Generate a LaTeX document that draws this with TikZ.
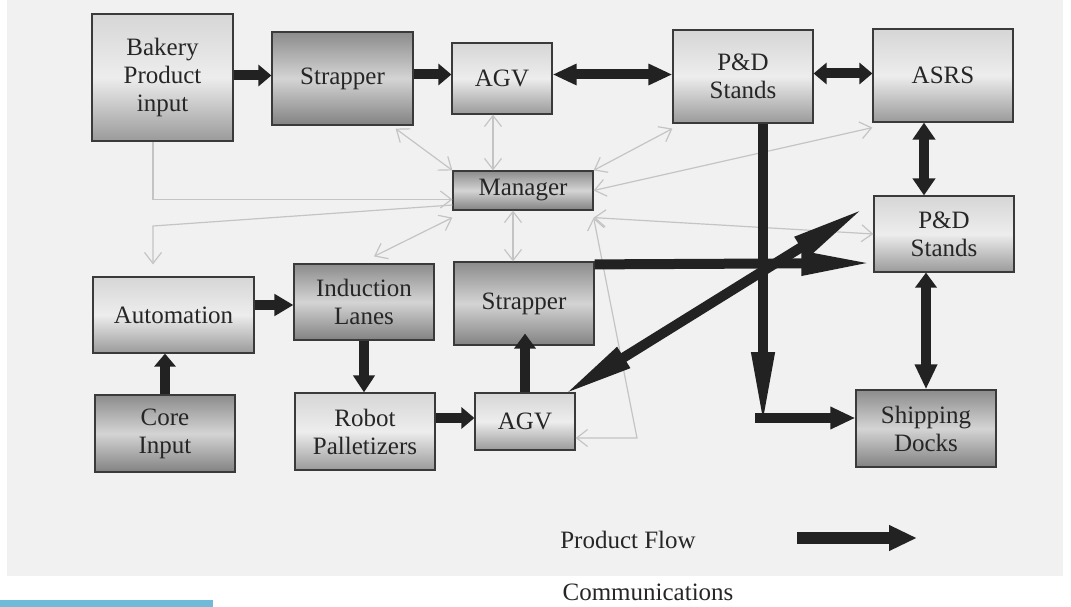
\documentclass[tikz,border=0pt]{standalone}
\usepackage{fontspec}
\setmainfont{Liberation Serif}
\usetikzlibrary{arrows.meta,calc}
\definecolor{bgc}{HTML}{F1F1F1}
\definecolor{boxc}{HTML}{3A3A3A}
\definecolor{txt}{HTML}{262626}
\definecolor{lt}{HTML}{D6D6D6}
\definecolor{lm}{HTML}{EDEDED}
\definecolor{lb}{HTML}{9A9A9A}
\definecolor{dt}{HTML}{8C8C8C}
\definecolor{dm}{HTML}{D4D4D4}
\definecolor{db}{HTML}{828282}
\definecolor{flowc}{HTML}{222222}
\definecolor{commc}{HTML}{C4C4C4}
\definecolor{barc}{HTML}{6FB9D9}
\begin{document}
\begin{tikzpicture}[x=1pt,y=-1pt,
  box/.style={draw=boxc, line width=1.2pt, inner sep=2pt, align=center, text=txt,
    font=\fontsize{25}{28}\selectfont},
  lbox/.style={box, top color=lt, bottom color=lb, middle color=lm},
  dbox/.style={box, top color=dt, bottom color=db, middle color=dm},
  flow/.style={draw=flowc, line width=10pt},
  comm/.style={draw=commc, line width=1.2pt},
  tS/.style={-{Triangle[length=13pt,width=21pt]}},
  tM/.style={-{Triangle[length=19pt,width=21pt]}},
  tL/.style={-{Triangle[length=72pt,width=22pt]}},
  cb/.style={comm, -{Straight Barb[length=11pt,width=17pt]}},
  cbb/.style={comm, {Straight Barb[length=11pt,width=17pt]}-{Straight Barb[length=11pt,width=17pt]}}
]
\useasboundingbox (0,0) rectangle (1071,607);
\fill[bgc] (7,0) rectangle (1063,576);
\fill[barc] (0,600) rectangle (213,607);

% nodes
\node[lbox, minimum width=141pt, minimum height=127pt] (bakery) at (162.5,77.5) {Bakery\\Product\\input};
\node[dbox, minimum width=141pt, minimum height=93pt] (strap1) at (342.5,78.5) {Strapper};
\node[lbox, minimum width=100pt, minimum height=71pt] (agv1) at (502,78.5) {AGV};
\node[lbox, minimum width=140pt, minimum height=93pt] (pd1) at (743,76.5) {P\&D\\Stands};
\node[lbox, minimum width=140pt, minimum height=93pt] (asrs) at (943,75.5) {ASRS};
\node[dbox, minimum width=140pt, minimum height=39pt] (manager) at (523,190.5) {Manager};
\node[lbox, minimum width=140pt, minimum height=76pt] (pd2) at (944,234) {P\&D\\Stands};
\node[lbox, minimum width=161pt, minimum height=76pt] (autom) at (173.5,315) {Automation};
\node[dbox, minimum width=140pt, minimum height=76pt] (induct) at (364,302) {Induction\\Lanes};
\node[dbox, minimum width=140pt, minimum height=83pt] (strap2) at (524,303.5) {Strapper};
\node[dbox, minimum width=140pt, minimum height=77pt] (core) at (165,433.5) {Core\\Input};
\node[lbox, minimum width=140pt, minimum height=77pt] (robot) at (365,431.5) {Robot\\Palletizers};
\node[lbox, minimum width=100pt, minimum height=57pt] (agv2) at (525,421.5) {AGV};
\node[dbox, minimum width=140pt, minimum height=77pt] (ship) at (926,428.5) {Shipping\\Docks};

\coordinate (bend1) at (153,226);
\coordinate (bend2) at (637,438);
\coordinate (pdtip) at (763,427);
\coordinate (shipstart) at (755,418);

% communications
\draw[cb] ($(bakery.south)+(-9.5,0)$) |- ($(manager.west)+(0,9)$);
\draw[cb] ($(manager.west)+(0,14.5)$) -- (bend1) -- ($(autom.north)+(-20.5,-12)$);
\draw[cbb] ($(strap1.south east)+(-18,3)$) -- (manager.north west);
\draw[cbb] ($(induct.north)+(10,-7)$) -- ($(manager.south west)+(0,7)$);
\draw[cbb] ($(agv1.south)+(-9,0)$) -- ($(agv1.south |- manager.north)+(-9,0)$);
\draw[cbb] ($(manager.south)+(-10,0)$) -- ($(manager.south |- strap2.north)+(-10,0)$);
\draw[cbb] ($(pd1.south west)+(0,5)$) -- (manager.north east);
\draw[cbb] (manager.east) -- ($(asrs.south west)+(0,5)$);
\draw[cbb] ($(manager.south east)+(0,7)$) -- (pd2.west);
\draw[cbb] ($(manager.south east)+(0,7)$) -- (bend2) -- ($(agv2.east)+(0,16.5)$);

% product flow
\draw[flow, tS] ($(bakery.east)+(0,-2)$) -- ($(bakery.east -| strap1.west)+(0,-2)$);
\draw[flow, tS] ($(strap1.east)+(0,-4)$) -- ($(strap1.east -| agv1.west)+(0,-4)$);
\draw[flow, {Triangle[length=24pt,width=20pt]}-{Triangle[length=24pt,width=20pt]}] ($(agv1.east)+(0,-4)$) -- ($(agv1.east -| pd1.west)+(0,-4)$);
\draw[flow, {Triangle[length=13pt,width=21pt]}-{Triangle[length=13pt,width=21pt]}] ($(pd1.east)+(0,-3)$) -- ($(pd1.east -| asrs.west)+(0,-3)$);
\draw[flow, {Triangle[length=17pt,width=22pt]}-{Triangle[length=17pt,width=22pt]}] ($(asrs.south)+(-19,0)$) -- ($(asrs.south |- pd2.north)+(-19,0)$);
\draw[flow, {Triangle[length=15pt,width=21pt]}-{Triangle[length=25pt,width=21pt]}] (ship.north |- pd2.south) -- (ship.north);
\draw[flow, tM] ($(autom.east)+(0,-10)$) -- ($(autom.east -| induct.west)+(0,-10)$);
\draw[flow, tS] (core.north) -- (core.north |- autom.south);
\draw[flow, -{Triangle[length=17pt,width=21pt]}] (induct.south) -- (induct.south |- robot.north);
\draw[flow, tS] ($(agv2.west -| robot.east)+(0,-3.5)$) -- ($(agv2.west)+(0,-3.5)$);
\draw[flow, -{Triangle[length=15pt,width=21pt]}] (agv2.north) -- ($(agv2.north |- strap2.south)+(0,-12)$);
\draw[flow, -{Triangle[length=75pt,width=21pt]}] ($(pd1.south)+(20,0)$) -- (pdtip);
\draw[flow, -{Triangle[length=25pt,width=21pt]}] (shipstart) -- ($(ship.west)+(0,-10.5)$);
\draw[flow, tL] ($(strap2.north east)+(0,3)$) -- ($(pd2.west)+(0,29)$);
\draw[flow, {Triangle[length=72pt,width=22pt]}-{Triangle[length=76pt,width=22pt]}] ($(agv2.north east)+(-13,3)$) -- ($(pd2.north west)+(-8,12)$);

% legend
\node[text=txt, font=\fontsize{25}{28}\selectfont] (pf) at (628,540) {Product Flow};
\coordinate (lgA) at (797,538);
\coordinate (lgB) at (917,538);
\draw[draw=flowc, line width=12pt, -{Triangle[length=28pt,width=24pt]}] (lgA) -- (lgB);
\node[text=txt, font=\fontsize{25}{28}\selectfont] (comm) at (648,592) {Communications};
\end{tikzpicture}
\end{document}
